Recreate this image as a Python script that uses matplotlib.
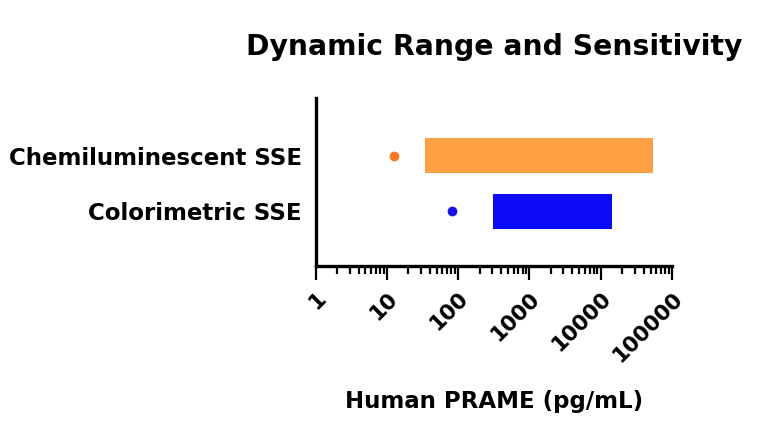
import matplotlib
matplotlib.use("Agg")
import matplotlib.pyplot as plt
import matplotlib.transforms as mtransforms
import numpy as np

# assay ranges (pg/mL)
assays = ['Colorimetric SSE', 'Chemiluminescent SSE']
range_low = [310, 34]
range_high = [14500, 55000]
sensitivity = [82, 12.5]
bar_colors = ['#0A0AF5', '#FDA043']
dot_colors = ['#1414E6', '#F47B20']
xticks = [1, 10, 100, 1000, 10000, 100000]

plt.rcParams['font.family'] = ['DejaVu Sans']
plt.rcParams['font.weight'] = 'bold'

fig = plt.figure(figsize=(7.68, 4.38), dpi=100)
ax = fig.add_axes([0.411, 0.393, 0.464, 0.383])

y = np.arange(len(assays))
widths = np.array(range_high) - np.array(range_low)
ax.barh(y, widths, left=range_low, height=0.63, color=bar_colors, zorder=2)
for i in range(len(assays)):
    ax.plot(sensitivity[i], y[i], 'o', color=dot_colors[i], markersize=6, zorder=3)

ax.set_xscale('log')
ax.set_xlim(1, 100000)
ax.set_ylim(-0.98, 2.04)
ax.set_xticks(xticks)
ax.set_xticklabels([str(t) for t in xticks], rotation=45, ha='right', va='top',
                   rotation_mode='anchor', fontsize=15.5, fontweight='bold')
# nudge the slanted labels a little left so they end under their ticks
shift = mtransforms.ScaledTranslation(-5 / 72, -2 / 72, fig.dpi_scale_trans)
for lab in ax.get_xticklabels():
    lab.set_transform(lab.get_transform() + shift)
ax.set_yticks(y)
ax.set_yticklabels(assays, fontsize=16.5, fontweight='bold')
ax.tick_params(axis='y', length=0, pad=10)
ax.tick_params(axis='x', which='major', length=10, width=1.6, pad=6)
ax.tick_params(axis='x', which='minor', length=6, width=1.6)

for side in ['top', 'right']:
    ax.spines[side].set_visible(False)
for side in ['left', 'bottom']:
    ax.spines[side].set_linewidth(2.4)

ax.set_xlabel('Human PRAME (pg/mL)', fontsize=16.5, fontweight='bold', labelpad=18)
fig.suptitle('Dynamic Range and Sensitivity', x=0.643, y=0.925, fontsize=20.3, fontweight='bold')

fig.savefig('out.png', dpi=100)
